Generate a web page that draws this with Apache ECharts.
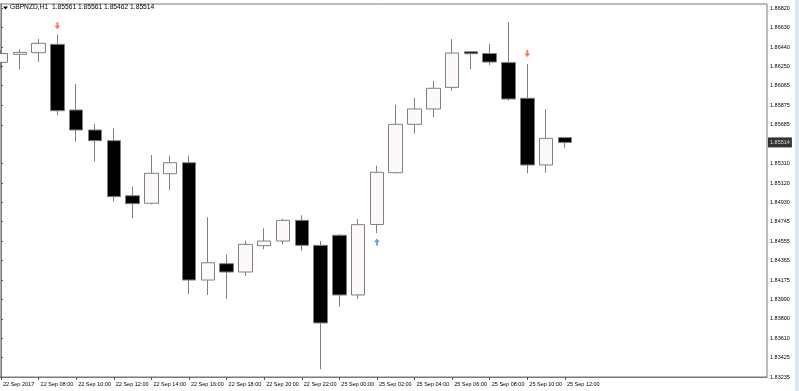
<!DOCTYPE html>
<html><head><meta charset="utf-8">
<script src="https://cdn.jsdelivr.net/npm/echarts@6/dist/echarts.min.js"></script>
<style>html,body{margin:0;padding:0;background:#fff}#c{width:799px;height:391px}</style>
</head><body><div id="c"></div>
<script>
const chartTitle = 'GBPNZD,H1  1.85561 1.85561 1.85462 1.85514';
const barIndex = [0,1,2,3,4,5,6,7,8,9,10,11,12,13,14,15,16,17,18,19,20,21,22,23,24,25,26,27,28,29,30];
const opens  = [1.86292,1.86370,1.86386,1.86467,1.85829,1.85635,1.85531,1.84996,1.84923,1.85210,1.85317,1.84177,1.84336,1.84255,1.84511,1.84556,1.84757,1.84514,1.84612,1.84032,1.84717,1.85220,1.85690,1.85839,1.86049,1.86395,1.86378,1.86290,1.85943,1.85295,1.85561];
const closes = [1.86378,1.86389,1.86477,1.85822,1.85635,1.85531,1.84987,1.84919,1.85214,1.85317,1.84177,1.84345,1.84255,1.84524,1.84556,1.84757,1.84514,1.83760,1.84032,1.84715,1.85224,1.85690,1.85839,1.86040,1.86383,1.86376,1.86295,1.85936,1.85295,1.85554,1.85514];
const lows   = [1.86227,1.86224,1.86298,1.85780,1.85521,1.85327,1.84938,1.84777,1.84913,1.85052,1.84041,1.84032,1.83993,1.84216,1.84476,1.84524,1.84462,1.83310,1.83918,1.83993,1.84634,1.85214,1.85599,1.85758,1.86016,1.86224,1.86266,1.85921,1.85214,1.85220,1.85462];
const highs  = [1.86412,1.86421,1.86519,1.86564,1.86082,1.85693,1.85651,1.85084,1.85392,1.85385,1.85385,1.84787,1.84427,1.84559,1.84680,1.84773,1.84806,1.84556,1.84624,1.84770,1.85288,1.85880,1.85948,1.86111,1.86519,1.86395,1.86470,1.86681,1.86276,1.85836,1.85561];
const xTickIndex  = [0,2,4,6,8,10,12,14,16,18,20,22,24,26,28,30];
const xTickLabels = ['22 Sep 2017','22 Sep 08:00','22 Sep 10:00','22 Sep 12:00','22 Sep 14:00','22 Sep 16:00','22 Sep 18:00','22 Sep 20:00','22 Sep 22:00','25 Sep 00:00','25 Sep 02:00','25 Sep 04:00','25 Sep 06:00','25 Sep 08:00','25 Sep 10:00','25 Sep 12:00'];
const yTickLabels = ['1.83235','1.83425','1.83610','1.83800','1.83990','1.84175','1.84365','1.84555','1.84745','1.84930','1.85120','1.85310','1.85685','1.85875','1.86065','1.86250','1.86440','1.86630','1.86820'];
const lastPrice = 1.85514;
const sellArrows = [[3,1.86648],[28,1.86378]];
const buyArrows  = [[20,1.84547]];

const X_MIN = -0.048, X_MAX = 40.75;
const yTickValues = yTickLabels.map(Number);
const candleData = barIndex.map((i, k) => [i, opens[k], closes[k], lows[k], highs[k]]);
const FONT = 'Liberation Sans';
const AXIS = '#7a7a7a';
const arrowPath = 'path://M2,0 L4,0 L4,3 L6,3 L3,6 L0,3 L2,3 Z';

const chart = echarts.init(document.getElementById('c'), null, {renderer: 'canvas'});
chart.setOption({
  animation: false,
  backgroundColor: '#ffffff',
  title: {
    text: chartTitle, left: 10, top: 4, padding: 0,
    textStyle: {fontFamily: FONT, fontSize: 6.7, fontWeight: 'normal', color: '#000'}
  },
  graphic: [
    {type: 'polygon', shape: {points: [[3, 6.5], [8, 6.5], [5.5, 9.5]]}, style: {fill: '#000'}},
    {type: 'rect', shape: {x: 795, y: 0, width: 4, height: 391}, style: {fill: '#dde7f2'}}
  ],
  grid: {left: 0, top: 4, right: 32, bottom: 14, show: true, borderColor: AXIS, borderWidth: 1, backgroundColor: '#fff'},
  xAxis: {
    type: 'value', min: X_MIN, max: X_MAX, position: 'bottom',
    splitLine: {show: false},
    axisLine: {show: true, lineStyle: {color: AXIS, width: 1}},
    axisTick: {show: true, customValues: xTickIndex, length: 3, lineStyle: {color: '#555'}},
    axisLabel: {
      customValues: xTickIndex, align: 'left', margin: 4, padding: [0, 0, 0, 2],
      fontFamily: FONT, fontSize: 5.5, color: '#000',
      formatter: v => { const k = xTickIndex.indexOf(Math.round(v)); return k >= 0 ? xTickLabels[k] : ''; }
    }
  },
  yAxis: {
    type: 'value', position: 'right', min: 1.83235, max: 1.86859, scale: true,
    splitLine: {show: false},
    axisLine: {show: true, lineStyle: {color: AXIS, width: 1}},
    axisTick: {show: true, customValues: yTickValues, length: 2, lineStyle: {color: '#555'}},
    axisLabel: {
      customValues: yTickValues, margin: 3, fontFamily: FONT, fontSize: 5.5, color: '#000',
      formatter: v => v.toFixed(5)
    }
  },
  series: [
    {
      type: 'candlestick',
      dimensions: ['idx', 'open', 'close', 'low', 'high'],
      encode: {x: 'idx', y: ['open', 'close', 'low', 'high']},
      data: candleData,
      barWidth: 14,
      itemStyle: {color: '#fdf9f9', color0: '#000000', borderColor: '#808080', borderColor0: '#808080', borderWidth: 1}
    },
    {
      type: 'scatter', data: sellArrows, symbol: arrowPath, symbolSize: [6, 7],
      itemStyle: {color: '#ff5a28'}, silent: true
    },
    {
      type: 'scatter', data: buyArrows, symbol: arrowPath, symbolSize: [6, 7], symbolRotate: 180,
      itemStyle: {color: '#3a8df5'}, silent: true
    },
    {
      type: 'scatter', data: [[X_MAX, lastPrice]], symbolSize: 0, clip: false, silent: true, z: 10,
      label: {
        show: true, position: 'right', distance: 1,
        formatter: () => lastPrice.toFixed(5),
        backgroundColor: '#000', color: '#fff', fontFamily: FONT, fontSize: 5.5, padding: [2, 2, 2, 2]
      }
    }
  ]
});
</script>
</body></html>
